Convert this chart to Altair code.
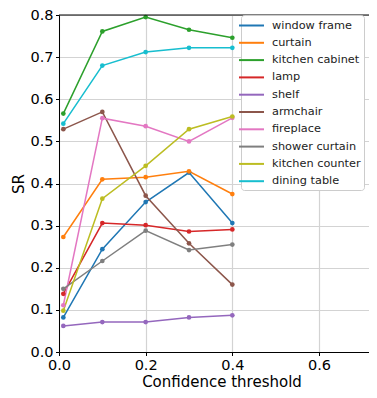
import altair as alt
import pandas as pd

thresholds = [0.01, 0.1, 0.2, 0.3, 0.4]
categories = ["window frame", "curtain", "kitchen cabinet", "lamp", "shelf",
              "armchair", "fireplace", "shower curtain", "kitchen counter", "dining table"]
colors = ["#1f77b4", "#ff7f0e", "#2ca02c", "#d62728", "#9467bd",
          "#8c564b", "#e377c2", "#7f7f7f", "#bcbd22", "#17becf"]
window_frame = [0.082, 0.244, 0.356, 0.426, 0.306]
curtain = [0.273, 0.410, 0.415, 0.429, 0.375]
kitchen_cabinet = [0.566, 0.761, 0.795, 0.765, 0.746]
lamp = [0.138, 0.306, 0.301, 0.286, 0.291]
shelf = [0.062, 0.071, 0.071, 0.082, 0.087]
armchair = [0.529, 0.570, 0.371, 0.258, 0.160]
fireplace = [0.111, 0.555, 0.536, 0.500, 0.556]
shower_curtain = [0.150, 0.216, 0.288, 0.242, 0.255]
kitchen_counter = [0.098, 0.364, 0.442, 0.529, 0.559]
dining_table = [0.542, 0.680, 0.712, 0.722, 0.722]
series = [window_frame, curtain, kitchen_cabinet, lamp, shelf,
          armchair, fireplace, shower_curtain, kitchen_counter, dining_table]
x_ticks = [0.0, 0.2, 0.4, 0.6]
y_ticks = [0.0, 0.1, 0.2, 0.3, 0.4, 0.5, 0.6, 0.7, 0.8]

rows = []
for i, (cat, vals) in enumerate(zip(categories, series)):
    for t, v in zip(thresholds, vals):
        rows.append({"threshold": t, "SR": v, "category": cat, "order": i})
df = pd.DataFrame(rows)

W = 310
H = 337
FONT = "DejaVu Sans"

lines = alt.Chart(df).mark_line(
    strokeWidth=1.5,
    point=alt.OverlayMarkDef(size=22, filled=True, opacity=1),
).encode(
    x=alt.X("threshold:Q",
            scale=alt.Scale(domain=[0, 0.7154], nice=False, zero=False),
            axis=alt.Axis(values=x_ticks, format=".1f", title="Confidence threshold",
                          titleX=162.5, titleY=34, titleBaseline="alphabetic",
                          titleAnchor="start", titleAlign="center",
                          titleFontSize=15, labelFontSize=14.5)),
    y=alt.Y("SR:Q",
            scale=alt.Scale(domain=[0, 0.8], nice=False, zero=False),
            axis=alt.Axis(values=y_ticks, format=".1f", title="SR",
                          titleX=-36, titleBaseline="alphabetic",
                          titleFontSize=15, labelFontSize=14.5)),
    color=alt.Color("category:N",
                    scale=alt.Scale(domain=categories, range=colors),
                    sort=categories,
                    legend=alt.Legend(
                        title=None, orient="none", legendX=182, legendY=0,
                        symbolType="M-2,0H2", symbolSize=156, symbolStrokeWidth=2,
                        labelFont=FONT, labelFontSize=11.3, labelColor="#222222",
                        labelOffset=13, rowPadding=4.3, padding=3,
                        fillColor="white", strokeColor="#cccccc", cornerRadius=3,
                    )),
    detail="category:N",
    order="order:Q",
)

top_spine = alt.Chart(pd.DataFrame({"a": [0]})).mark_rule(
    color="black", strokeWidth=1
).encode(x=alt.value(0), x2=alt.value(W), y=alt.value(0))

chart = alt.layer(lines, top_spine).properties(
    width=W, height=H,
    autosize=alt.AutoSizeParams(type="none"),
    padding={"left": 51, "top": 7, "right": 0, "bottom": 38},
).configure_view(stroke=None).configure_axis(
    domainColor="black", domainWidth=1,
    tickColor="black", tickSize=3.5, tickWidth=1,
    labelFont=FONT, labelColor="black", labelPadding=2.5,
    labelFlush=False,
    titleFont=FONT, titleColor="black", titleFontWeight="normal",
    grid=True, gridColor="#d3d3d3", gridWidth=1.2,
)

chart.save("out.html", embed_options={"renderer": "svg", "actions": False})
